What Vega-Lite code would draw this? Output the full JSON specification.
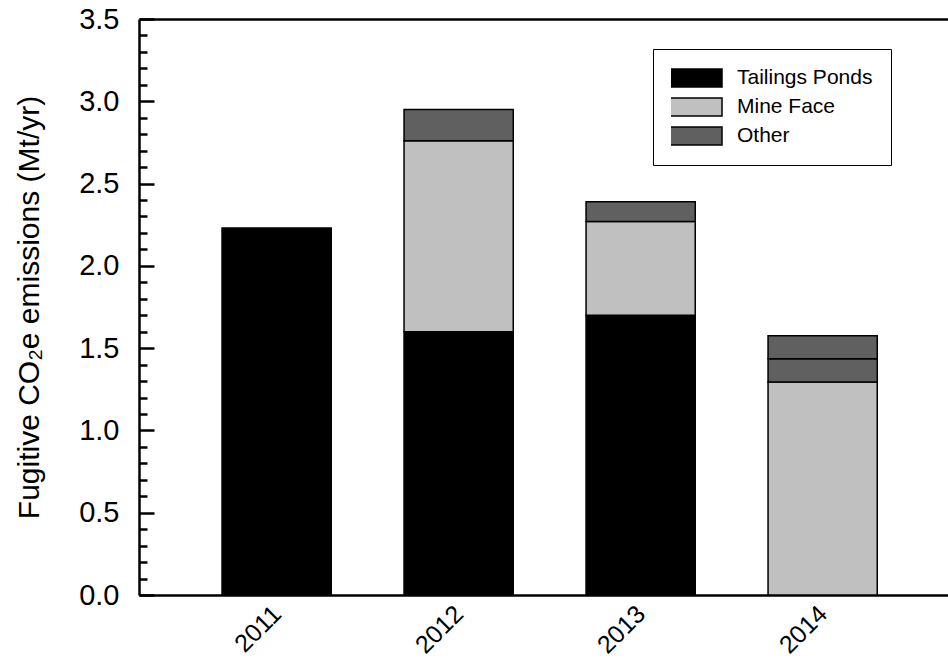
{
  "$schema": "https://vega.github.io/schema/vega-lite/v6.json",
  "width": 809,
  "height": 576,
  "autosize": "none",
  "padding": {"left": 139, "top": 19, "right": 0, "bottom": 63},
  "config": {
    "font": "Liberation Sans",
    "view": {"stroke": null},
    "axis": {"labelColor": "black", "titleColor": "black", "domainColor": "black", "tickColor": "black", "grid": false}
  },
  "data": {
    "values": [
      {"year": "2011", "source": "Tailings Ponds", "value": 2.23, "order": 1},
      {"year": "2012", "source": "Tailings Ponds", "value": 1.60, "order": 1},
      {"year": "2012", "source": "Mine Face", "value": 1.16, "order": 2},
      {"year": "2012", "source": "Other", "value": 0.19, "order": 3},
      {"year": "2013", "source": "Tailings Ponds", "value": 1.70, "order": 1},
      {"year": "2013", "source": "Mine Face", "value": 0.57, "order": 2},
      {"year": "2013", "source": "Other", "value": 0.12, "order": 3},
      {"year": "2014", "source": "Mine Face", "value": 1.295, "order": 2},
      {"year": "2014", "source": "Other", "value": 0.14, "order": 3},
      {"year": "2014", "source": "Other", "value": 0.14, "order": 4}
    ]
  },
  "layer": [
    {
      "mark": {"type": "bar", "stroke": "black", "strokeWidth": 1.5},
      "encoding": {
        "x": {
          "field": "year", "type": "nominal",
          "scale": {"paddingInner": 0.4, "paddingOuter": 0.4225, "align": 0.54},
          "axis": {"title": null, "labelAngle": -45, "labelAlign": "right", "labelBaseline": "top", "ticks": false, "labelFontSize": 25, "labelPadding": 6, "labelOffset": -8, "domainWidth": 2.5, "orient": "bottom"}
        },
        "y": {
          "field": "value", "type": "quantitative", "stack": "zero",
          "scale": {"domain": [0, 3.5], "nice": false, "zero": true},
          "axis": {
            "title": "Fugitive CO₂e emissions (Mt/yr)",
            "titleFontSize": 30, "titleFontWeight": "normal", "titlePadding": 34,
            "values": [0, 0.5, 1, 1.5, 2, 2.5, 3, 3.5],
            "format": ".1f", "labelFontSize": 29, "labelPadding": 35,
            "tickSize": -15, "tickWidth": 2.5, "domainWidth": 2.5, "orient": "left"
          }
        },
        "color": {
          "field": "source", "type": "nominal",
          "scale": {"domain": ["Tailings Ponds", "Mine Face", "Other"], "range": ["#000000", "#c0c0c0", "#606060"]},
          "legend": {
            "title": null, "orient": "none", "legendX": 514, "legendY": 30,
            "symbolType": "M-1,-0.35L1,-0.35L1,0.35L-1,0.35Z", "symbolSize": 2704,
            "symbolStrokeColor": "black", "symbolStrokeWidth": 1.5, "symbolOffset": -2,
            "clipHeight": 22, "rowPadding": 7, "labelOffset": 14,
            "labelFontSize": 21, "labelColor": "black",
            "padding": 18, "strokeColor": "black", "fillColor": "white"
          }
        },
        "order": {"field": "order", "type": "quantitative"}
      }
    },
    {
      "mark": {"type": "bar", "opacity": 0},
      "encoding": {
        "x": {
          "field": "year", "type": "nominal",
          "axis": {"title": null, "orient": "top", "labels": false, "ticks": false, "domainWidth": 2.5}
        },
        "y": {
          "field": "value", "type": "quantitative", "stack": "zero",
          "axis": {
            "title": null, "orient": "left", "labels": false, "domain": false,
            "values": [0.1, 0.2, 0.3, 0.4, 0.6, 0.7, 0.8, 0.9, 1.1, 1.2, 1.3, 1.4, 1.6, 1.7, 1.8, 1.9, 2.1, 2.2, 2.3, 2.4, 2.6, 2.7, 2.8, 2.9, 3.1, 3.2, 3.3, 3.4],
            "tickSize": -8, "tickWidth": 2.5
          }
        },
        "order": {"field": "order", "type": "quantitative"}
      }
    }
  ],
  "resolve": {"axis": {"x": "independent", "y": "independent"}}
}
